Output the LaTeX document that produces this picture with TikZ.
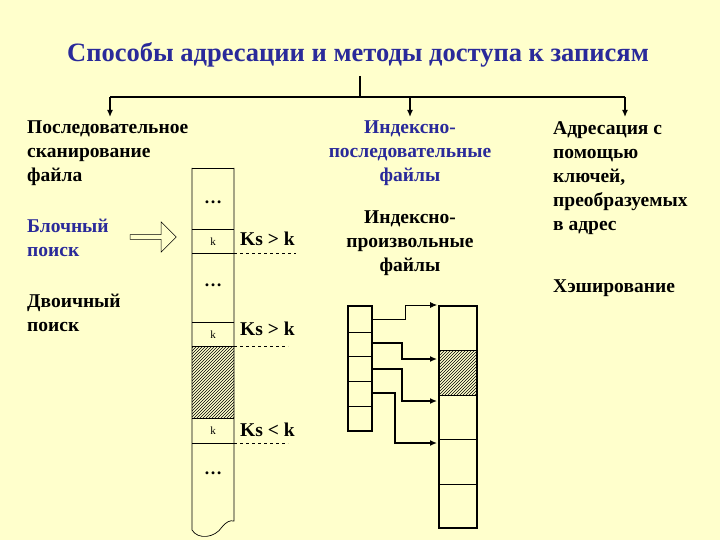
\documentclass[tikz,border=0pt]{standalone}
\usepackage{fontspec}
\setmainfont{Liberation Serif}
\usetikzlibrary{patterns,arrows.meta,shapes.arrows}
\definecolor{bg}{HTML}{FFFFCC}
\definecolor{tblue}{HTML}{2A2A9A}
\begin{document}
\begin{tikzpicture}[x=1pt,y=-1pt,
  txt/.style={font=\bfseries\fontsize{19.5}{24}\selectfont,inner sep=0pt},
  ln/.style={line width=1.4pt},
  dl/.style={dashed,line width=0.6pt},
  arr/.style={line width=1.3pt,-{Latex[length=7pt,width=6pt]}},
  dots/.style={font=\bfseries\fontsize{18}{18}\selectfont,inner sep=0pt}]
\fill[bg] (0,0) rectangle (720,540);
\useasboundingbox (0,0) rectangle (720,540);
\node[txt,font=\bfseries\fontsize{26.5}{28}\selectfont,text=tblue] (title) at (358,55) {Способы адресации и методы доступа к записям};
\coordinate (hub) at (360,97);
\coordinate (hl) at (110,97);
\coordinate (hm) at (410,97);
\coordinate (hr) at (625,97);
\coordinate (tl) at (110,117);
\coordinate (tm) at (410,117);
\coordinate (tr) at (625,117);
\draw[ln] (360,76) -- (hub);
\draw[ln] (hl) -- (hr);
\draw[arr] (hl) -- (tl);
\draw[arr] (hm) -- (tm);
\draw[arr] (hr) -- (tr);
\node[txt,align=left,anchor=north west] (seq) at (27,121) {Последовательное\\сканирование\\файла};
\node[txt,align=left,anchor=north west,text=tblue] (blk) at (27,219) {Блочный\\поиск};
\node[txt,align=left,anchor=north west] (bin) at (27,294) {Двоичный\\поиск};
\node[txt,align=center,anchor=north,text=tblue] (isf) at (410,121) {Индексно-\\последовательные\\файлы};
\node[txt,align=center,anchor=north] (irf) at (410,211) {Индексно-\\произвольные\\файлы};
\node[txt,align=left,anchor=north west] (adr) at (553,121) {Адресация с\\помощью\\ключей,\\преобразуемых\\в адрес};
\node[txt,anchor=west] (hash) at (553,288) {Хэширование};
% hollow arrow
\node[single arrow,draw,line width=0.6pt,minimum height=46pt,minimum width=30pt,single arrow head extend=7pt,single arrow head indent=0pt,inner sep=1pt] (harr) at (152,237) {};
% column
\fill[pattern=north east lines] (192,346) rectangle (234,418);
\draw[line width=0.7pt] (192,168) -- (234,168);
\draw[line width=0.7pt] (192,168) -- (192,530) .. controls (198,540) and (215,538) .. (222,527) .. controls (226,522) and (230,520) .. (234,521) -- (234,168);
\foreach \y in {229,253,322,346,418,443} \draw[line width=0.7pt] (192,\y) -- (234,\y);
\node[dots] (d1) at (213,202) {\dots};
\node[dots] (d2) at (213,285) {\dots};
\node[dots] (d3) at (213,473) {\dots};
\node[font=\fontsize{11}{11}\selectfont] (k1) at (213,242) {k};
\node[font=\fontsize{11}{11}\selectfont] (k2) at (213,335) {k};
\node[font=\fontsize{11}{11}\selectfont] (k3) at (213,431) {k};
\node[txt,anchor=west] (c1) at (240,239) {Ks > k};
\node[txt,anchor=west] (c2) at (240,329) {Ks > k};
\node[txt,anchor=west] (c3) at (240,430) {Ks < k};
\draw[dl] (234,253) -- (296,253);
\draw[dl] (234,346) -- (288,346);
\draw[dl] (234,443) -- (288,443);
% index table
\draw[line width=1.5pt] (348,306) rectangle (372,431);
\foreach \y in {332,356,381,406} \draw[line width=0.7pt] (348,\y) -- (372,\y);
% main file
\fill[pattern=north east lines] (439,350) rectangle (477,395);
\draw[line width=1.5pt] (439,306) rectangle (477,528);
\foreach \y in {350,395,439,484} \draw[line width=0.7pt] (439,\y) -- (477,\y);
\draw[arr,line width=0.8pt] (372,319) -- (405,319) -- (405,305) -- (437,305);
\draw[arr] (372,343) -- (402,343) -- (402,359) -- (437,359);
\draw[arr] (372,369) -- (402,369) -- (402,401) -- (437,401);
\draw[arr] (372,393) -- (395,393) -- (395,443) -- (437,443);
\end{tikzpicture}
\end{document}
